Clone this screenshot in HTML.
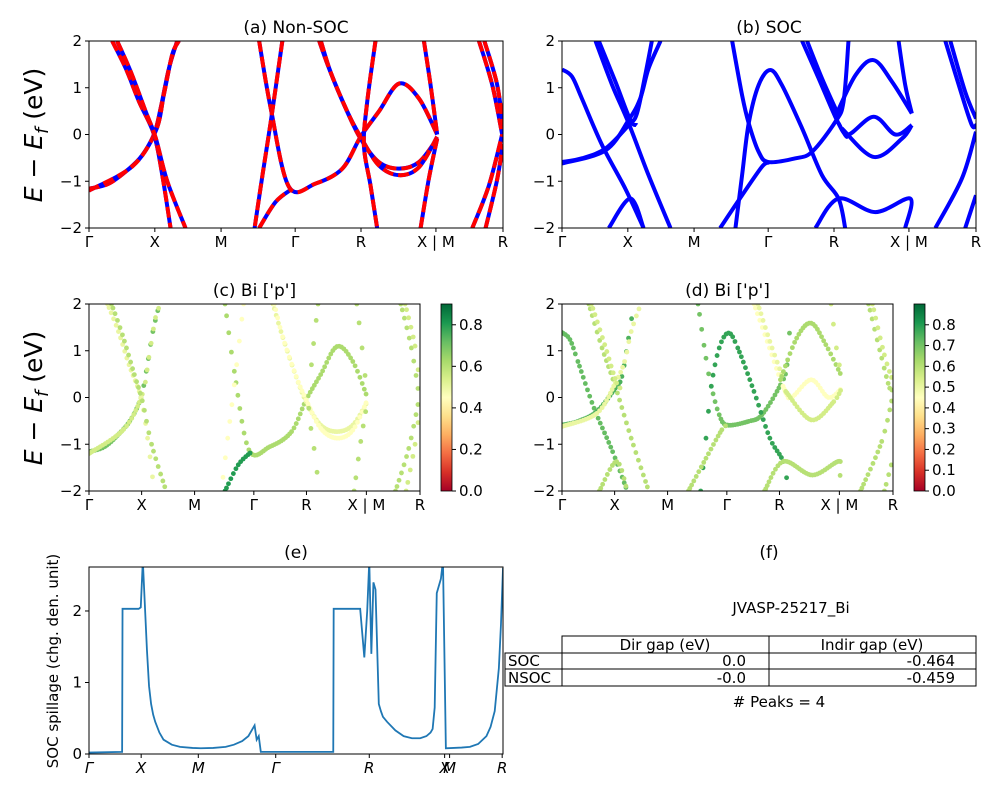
<!DOCTYPE html>
<html><head><meta charset="utf-8"><style>
body{margin:0;background:#fff}
svg text{font-family:"DejaVu Sans","Liberation Sans",sans-serif;fill:#000}
</style></head><body>
<svg id="s" width="1000" height="800" xmlns="http://www.w3.org/2000/svg">
<defs>
<linearGradient id="cb" x1="0" y1="1" x2="0" y2="0">
<stop offset="0" stop-color="#a50026"/><stop offset="0.1" stop-color="#d73027"/><stop offset="0.2" stop-color="#f46d43"/><stop offset="0.3" stop-color="#fdae61"/><stop offset="0.4" stop-color="#fee08b"/><stop offset="0.5" stop-color="#ffffbf"/><stop offset="0.6" stop-color="#d9ef8b"/><stop offset="0.7" stop-color="#a6d96a"/><stop offset="0.8" stop-color="#66bd63"/><stop offset="0.9" stop-color="#1a9850"/><stop offset="1" stop-color="#006837"/>
</linearGradient>
</defs>
</svg>
<script>
// ---------- data ----------
const kLabels = ["Γ","X","M","Γ","R","X | M","R"];
const kTicks = [0,0.159,0.319,0.498,0.657,0.838,1];
const eTicks = [-2,-1,0,1,2];
const bandsNSOC = [
 [[0,-1.16],[.048,-1.05],[.097,-0.73],[.129,-0.44],[.157,0],[.173,0.56],[.193,1.41],[.213,2]],
 [[0,-1.2],[.105,-0.68],[.161,0.07],[.181,0.86],[.201,1.71],[.217,2]],
 [[.056,2],[.089,1.41],[.121,0.7],[.157,0],[.177,-0.87],[.197,-2]],
 [[.068,2],[.101,1.34],[.137,0.49],[.161,-0.07],[.189,-1.0],[.233,-2]],
 [[.411,2],[.439,0.56],[.483,-1.12],[.547,-1.05],[.612,-0.73],[.656,-0.05],[.700,0.49],[.749,1.09],[.797,0.77],[.841,0]],
 [[.467,2],[.439,0.27],[.419,-0.87],[.400,-2]],
 [[.411,-2],[.451,-1.44],[.491,-1.16]],
 [[.556,2],[.580,1.41],[.620,0.56],[.656,-0.09],[.700,-0.59],[.749,-0.73],[.797,-0.59],[.841,-0.09]],
 [[.560,2],[.585,1.3],[.626,0.45],[.656,-0.05],[.700,-0.66],[.749,-0.87],[.797,-0.7],[.841,-0.05]],
 [[.692,2],[.672,0.7],[.664,-0.23],[.680,-1.09],[.696,-2]],
 [[.809,2],[.825,1.06],[.841,0]],
 [[.801,-2],[.821,-0.94],[.841,-0.09]],
 [[.942,2],[.974,1.06],[.998,0]],
 [[.955,2],[.985,1.1],[1,0.2]],
 [[.926,-2],[.966,-1.09],[.998,0]],
 [[.958,-2],[.985,-1.0],[1,-0.2]]
];
const weightNSOC = [0.7,0.55,0.5,0.6,0.62,0.45,0.8,0.5,0.45,0.6,0.6,0.6,0.6,0.55,0.6,0.55];
const bandsSOC = [
 [[0,1.39],[.024,1.24],[.048,0.77],[.097,-0.23],[.153,-1.16],[.197,-2]],
 [[.081,2],[.121,1.06],[.161,0.24],[.209,-0.87],[.262,-2]],
 [[.113,-2],[.165,-1.37],[.197,-2]],
 [[0,-0.59],[.048,-0.51],[.105,-0.3],[.161,0.2],[.181,0.45],[.201,1.27],[.217,2]],
 [[0,-0.62],[.105,-0.34],[.161,0.31],[.189,0.77],[.209,1.41],[.238,2]],
 [[.089,2],[.129,1.13],[.165,0.31],[.181,0.2]],
 [[.411,2],[.435,0.84],[.451,0.24],[.475,-0.37],[.499,-0.59],[.564,-0.51],[.604,-0.37],[.660,0.27],[.680,0.7],[.692,2]],
 [[.419,-2],[.435,-0.87],[.451,0.24],[.475,1.06],[.503,1.38],[.531,1.06],[.580,0.13],[.628,-0.87],[.668,-1.37],[.684,-2]],
 [[.382,-2],[.435,-1.3],[.483,-0.69],[.499,-0.6]],
 [[.580,2],[.620,1.2],[.660,0.38],[.684,-0.01],[.692,-0.05]],
 [[.592,2],[.628,1.2],[.668,0.41]],
 [[.660,0.38],[.709,1.27],[.753,1.59],[.797,1.13],[.845,0.45]],
 [[.668,0.24],[.692,0],[.753,0.38],[.805,0],[.845,0.2]],
 [[.676,0.13],[.753,-0.48],[.821,-0.09],[.845,0.2]],
 [[.813,2],[.829,1.06],[.845,0.45]],
 [[.612,-2],[.668,-1.37],[.757,-1.66],[.841,-1.37],[.829,-2]],
 [[.926,2],[.966,0.84],[.990,0.2],[1,0.2]],
 [[.938,2],[.974,0.91],[1,0.34]],
 [[.902,-2],[.966,-0.94],[1,0.06]],
 [[.974,-2],[1,-1.3]]
];
const weightSOC = [0.72,0.6,0.6,0.75,0.5,0.55,0.7,0.78,0.6,0.45,0.5,0.62,0.45,0.55,0.55,0.6,0.6,0.55,0.6,0.6];
const spillK = [0,0.08,0.081,0.12,0.125,0.13,0.14,0.145,0.15,0.155,0.16,0.17,0.18,0.2,0.22,0.25,0.27,0.3,0.33,0.35,0.37,0.385,0.395,0.40,0.405,0.41,0.415,0.59,0.591,0.655,0.665,0.672,0.677,0.682,0.687,0.692,0.70,0.705,0.71,0.72,0.74,0.76,0.78,0.80,0.815,0.825,0.83,0.835,0.84,0.85,0.855,0.862,0.9,0.92,0.94,0.96,0.97,0.98,0.99,0.995,1.0];
const spillV = [0.02,0.03,2.03,2.03,2.05,2.7,1.45,0.95,0.7,0.55,0.45,0.3,0.2,0.13,0.1,0.085,0.08,0.085,0.1,0.13,0.18,0.25,0.35,0.4,0.2,0.25,0.03,0.03,2.03,2.03,1.35,2.0,2.7,1.4,2.4,2.3,0.7,0.6,0.52,0.45,0.33,0.25,0.22,0.22,0.25,0.3,0.35,0.65,2.25,2.45,2.7,0.08,0.09,0.1,0.14,0.25,0.38,0.6,1.2,1.8,2.6];
const spillTickK = [0,0.126,0.264,0.451,0.677,0.859,0.871,0.998];
const spillTickL = ["Γ","X","M","Γ","R","X","M","R"];
const spillYTicks = [0,1,2];
const cbTicksC = [0,0.2,0.4,0.6,0.8];
const cbTicksD = [0,0.1,0.2,0.3,0.4,0.5,0.6,0.7,0.8];

// ---------- helpers ----------
const S = document.getElementById('s'), NS = "http://www.w3.org/2000/svg";
function el(tag, attrs, parent){const e=document.createElementNS(NS,tag);for(const k in attrs)e.setAttribute(k,attrs[k]);(parent||S).appendChild(e);return e;}
function txt(x,y,s,size,anchor,parent){const t=el('text',{x:x,y:y,'font-size':size,'text-anchor':anchor||'middle'},parent);t.textContent=s;return t;}
function crCtrl(pts,i){const p0=pts[i-1]||pts[i],p1=pts[i],p2=pts[i+1],p3=pts[i+2]||p2;return [p1,[p1[0]+(p2[0]-p0[0])/6,p1[1]+(p2[1]-p0[1])/6],[p2[0]-(p3[0]-p1[0])/6,p2[1]-(p3[1]-p1[1])/6],p2];}
function crPath(pts){let d="M"+pts[0][0]+","+pts[0][1];for(let i=0;i<pts.length-1;i++){const c=crCtrl(pts,i);d+=" C"+c[1]+" "+c[2]+" "+c[3];}return d;}
function bez(c,t){const u=1-t;return [0,1].map(j=>u*u*u*c[0][j]+3*u*u*t*c[1][j]+3*u*t*t*c[2][j]+t*t*t*c[3][j]);}
const cstops=[[0,[165,0,38]],[.1,[215,48,39]],[.2,[244,109,67]],[.3,[253,174,97]],[.4,[254,224,139]],[.5,[255,255,191]],[.6,[217,239,139]],[.7,[166,217,106]],[.8,[102,189,99]],[.9,[26,152,80]],[1,[0,104,55]]];
function cmap(v){v=Math.max(0,Math.min(1,v/0.9));for(let i=0;i<cstops.length-1;i++){const a=cstops[i],b=cstops[i+1];if(v<=b[0]){const t=(v-a[0])/(b[0]-a[0]);return "rgb("+a[1].map((c,j)=>Math.round(c+(b[1][j]-c)*t)).join(",")+")";}}return "rgb(0,104,55)";}

function axesFrame(g,L,R,T,B,name){
  el('rect',{x:L,y:T,width:R-L,height:B-T,fill:'none',stroke:'#000','stroke-width':1},g);
}
let clipId=0;
function bandPanel(L,R,T,B,title,bands,mode,weights,name){
  const g=el('g',{});
  
  
  const xs=k=>L+k*(R-L), ys=e=>T+(2-e)/4*(B-T);
  const cid='c'+(clipId++);
  const cp=el('clipPath',{id:cid},g);el('rect',{x:L,y:T,width:R-L,height:B-T},cp);
  const pg=el('g',{'clip-path':'url(#'+cid+')'},g);
  bands.forEach((b,i)=>{
    const pts=b.map(p=>[xs(p[0]),ys(p[1])]);
    if(mode==='nsoc'){
      const p1=el('path',{d:crPath(pts),fill:'none',stroke:'#0000ff','stroke-width':4},pg);
      
      el('path',{d:crPath(pts),fill:'none',stroke:'#ff0000','stroke-width':4,'stroke-dasharray':'11 5'},pg);
    } else if(mode==='soc'){
      const p1=el('path',{d:crPath(pts),fill:'none',stroke:'#0000ff','stroke-width':4},pg);
      
    } else {
      const col=cmap(weights[i]);
      const step=0.0065*(R-L);
      for(let j=0;j<pts.length-1;j++){
        const c=crCtrl(pts,j);const dx=Math.abs(c[3][0]-c[0][0]);const n=Math.max(1,Math.round(dx/step));
        for(let s=0;s<n;s++){const p=bez(c,s/n);
          const d=el('circle',{cx:p[0],cy:p[1],r:2.4,fill:col},pg);
          
        }
      }
    }
  });
  axesFrame(g,L,R,T,B,name);
  kTicks.forEach((k,i)=>{el('line',{x1:xs(k),x2:xs(k),y1:B,y2:B+4,stroke:'#000'},g);txt(xs(k),B+19,kLabels[i],15,'middle',g);});
  eTicks.forEach(e=>{el('line',{x1:L-4,x2:L,y1:ys(e),y2:ys(e),stroke:'#000'},g);txt(L-7,ys(e)+5,String(e).replace('-','−'),15,'end',g);});
  txt((L+R)/2,T-8,title,17,'middle',g);
}
function colorbar(L,R,T,B,ticks,name){
  const g=el('g',{});
  
  
  el('rect',{x:L,y:T,width:R-L,height:B-T,fill:'url(#cb)',stroke:'#000','stroke-width':0.8},g);
  ticks.forEach(v=>{const y=B-v/0.9*(B-T);el('line',{x1:R,x2:R+4,y1:y,y2:y,stroke:'#000'},g);txt(R+7,y+5,v.toFixed(1),15,'start',g);});
}
function ylabel(x,y,size){const t=el('text',{x:0,y:0,'font-size':size,'text-anchor':'middle',transform:'translate('+x+','+y+') rotate(-90)'});
  
  t.innerHTML='<tspan font-style="italic">E</tspan> − <tspan font-style="italic">E</tspan><tspan font-style="italic" font-size="'+(size*0.7)+'" dy="6">f</tspan><tspan dy="-6"> (eV)</tspan>';}

bandPanel(89,503,41,228,"(a) Non-SOC",bandsNSOC,'nsoc',null,'panel-a-nonsoc');
bandPanel(562,976,41,228,"(b) SOC",bandsSOC,'soc',null,'panel-b-soc');
bandPanel(89,420,304,491,"(c)  Bi ['p']",bandsNSOC,'scatter',weightNSOC,'panel-c-projected');
bandPanel(562,893,304,491,"(d) Bi ['p']",bandsSOC,'scatter',weightSOC,'panel-d-projected');
colorbar(441,452,304,491,cbTicksC,'colorbar-c');
colorbar(914,925,304,491,cbTicksD,'colorbar-d');
ylabel(42,135,25);ylabel(42,398,25);

// panel e
(function(){
  const L=89,R=503,T=567,B=754,ymax=2.615;
  const g=el('g',{});
  
  
  const xs=k=>L+k*(R-L), ys=v=>B-v/ymax*(B-T);
  const cp=el('clipPath',{id:'ce'},g);el('rect',{x:L,y:T,width:R-L,height:B-T},cp);
  const d=spillK.map((k,i)=>(i?'L':'M')+xs(k)+','+ys(spillV[i])).join(' ');
  const p=el('path',{d:d,fill:'none',stroke:'#1f77b4','stroke-width':1.8,'clip-path':'url(#ce)'},g);
  
  axesFrame(g,L,R,T,B,'panel-e');
  spillTickK.forEach((k,i)=>{el('line',{x1:xs(k),x2:xs(k),y1:B,y2:B+4,stroke:'#000'},g);const t=txt(xs(k),B+19,spillTickL[i],15,'middle',g);t.setAttribute('font-style','italic');});
  spillYTicks.forEach(v=>{el('line',{x1:L-4,x2:L,y1:ys(v),y2:ys(v),stroke:'#000'},g);txt(L-7,ys(v)+5,String(v),15,'end',g);});
  txt((L+R)/2,558,"(e)",17,'middle',g);
  const yl=el('text',{x:0,y:0,'font-size':15,'text-anchor':'middle',transform:'translate(58,661) rotate(-90)'},g);
  yl.textContent="SOC spillage (chg. den. unit)";
  
})();

// panel f
(function(){
  const g=el('g',{});
  
  
  txt(769,558,"(f)",17,'middle',g);
  txt(791,613,"JVASP-25217_Bi",15,'middle',g);
  const s={fill:'none',stroke:'#000','stroke-width':1};
  el('rect',Object.assign({x:562,y:636,width:414,height:50},s),g);
  el('rect',Object.assign({x:505,y:653,width:57,height:33},s),g);
  el('line',{x1:562,x2:976,y1:653,y2:653,stroke:'#000'},g);
  el('line',{x1:505,x2:976,y1:669,y2:669,stroke:'#000'},g);
  el('line',{x1:769,x2:769,y1:636,y2:686,stroke:'#000'},g);
  txt(665,650,"Dir gap (eV)",15,'middle',g);
  txt(872,650,"Indir gap (eV)",15,'middle',g);
  txt(508,666,"SOC",15,'start',g);txt(508,683,"NSOC",15,'start',g);
  txt(746,666,"0.0",15,'end',g);txt(955,666,"-0.464",15,'end',g);
  txt(746,683,"-0.0",15,'end',g);txt(955,683,"-0.459",15,'end',g);
  txt(779,707,"# Peaks = 4",15,'middle',g);
})();
</script>
</body></html>
